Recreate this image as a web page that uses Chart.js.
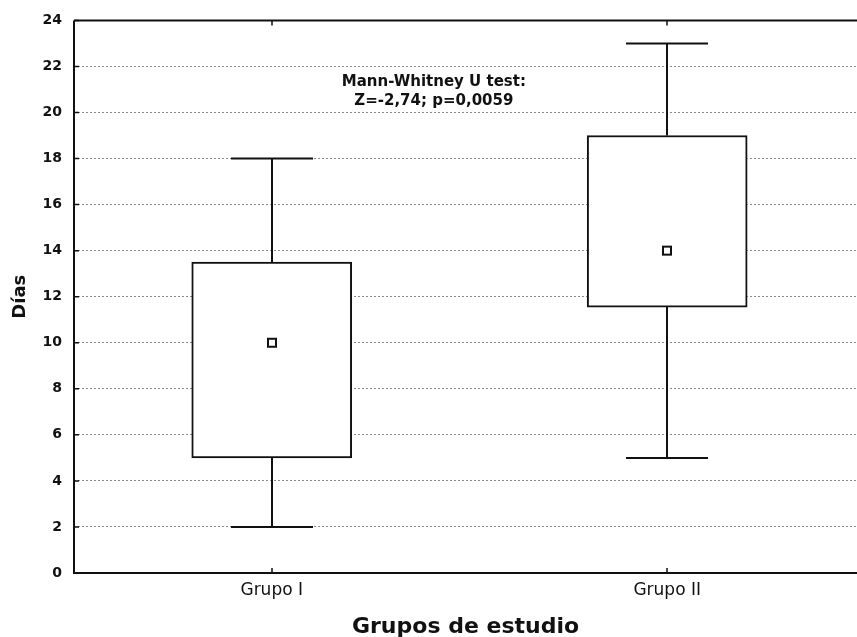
<!DOCTYPE html>
<html>
<head>
<meta charset="utf-8">
<script src="https://cdn.jsdelivr.net/npm/chart.js@4/dist/chart.umd.min.js"></script>
<style>
  html, body { margin: 0; padding: 0; background: #fff; overflow: hidden; }
</style>
</head>
<body>
<canvas id="boxChart" width="857" height="637"></canvas>
<script>
// datos
const grupos = ["Grupo I", "Grupo II"];
const minimos = [2, 5];
const q1 = [5, 11.55];
const medianas = [10, 14];
const q3 = [13.5, 19];
const maximos = [18, 23];
const yTicks = [0, 2, 4, 6, 8, 10, 12, 14, 16, 18, 20, 22, 24];
const notaLineas = ["Mann-Whitney U test:", "Z=-2,74; p=0,0059"];
const notaPos = { x: 1.41, y: 21.3 };

const boxPlugin = {
    id: "boxExtras",
    afterDatasetsDraw(chart) {
        const ctx = chart.ctx;
        const xs = chart.scales.x;
        const ys = chart.scales.y;
        const area = chart.chartArea;
        const capHalf = 41;
        ctx.save();
        ctx.strokeStyle = "#111";
        ctx.lineWidth = 2;

        // bigotes y tapas
        grupos.forEach(function (g, i) {
            const cx = Math.round(xs.getPixelForValue(i + 1));
            const yMin = ys.getPixelForValue(minimos[i]);
            const yQ1 = ys.getPixelForValue(q1[i]);
            const yQ3 = ys.getPixelForValue(q3[i]);
            const yMax = ys.getPixelForValue(maximos[i]);
            ctx.beginPath();
            ctx.moveTo(cx, yQ1); ctx.lineTo(cx, yMin);
            ctx.moveTo(cx - capHalf, yMin); ctx.lineTo(cx + capHalf, yMin);
            ctx.moveTo(cx, yQ3); ctx.lineTo(cx, yMax);
            ctx.moveTo(cx - capHalf, yMax); ctx.lineTo(cx + capHalf, yMax);
            ctx.stroke();

            // mediana
            const ym = ys.getPixelForValue(medianas[i]);
            ctx.fillStyle = "#fff";
            ctx.fillRect(cx - 4, ym - 4, 8, 8);
            ctx.strokeRect(cx - 4, ym - 4, 8, 8);
        });

        // marco
        ctx.beginPath();
        ctx.moveTo(area.left, area.top); ctx.lineTo(area.right, area.top);
        ctx.moveTo(area.left, area.top); ctx.lineTo(area.left, area.bottom);
        ctx.lineTo(area.right, area.bottom);
        ctx.stroke();

        // marcas internas
        ctx.lineWidth = 1.5;
        ctx.beginPath();
        yTicks.forEach(function (v) {
            const py = ys.getPixelForValue(v);
            ctx.moveTo(area.left, py); ctx.lineTo(area.left + 5, py);
        });
        grupos.forEach(function (g, i) {
            const px = Math.round(xs.getPixelForValue(i + 1));
            ctx.moveTo(px, area.bottom); ctx.lineTo(px, area.bottom - 5);
            ctx.moveTo(px, area.top); ctx.lineTo(px, area.top + 5);
        });
        ctx.stroke();

        // nota
        ctx.fillStyle = "#111";
        ctx.font = "bold 15px 'DejaVu Sans'";
        ctx.textAlign = "center";
        ctx.textBaseline = "middle";
        const nx = xs.getPixelForValue(notaPos.x);
        const ny = ys.getPixelForValue(notaPos.y);
        notaLineas.forEach(function (t, k) {
            ctx.fillText(t, nx, ny + k * 19);
        });
        ctx.restore();
    }
};

new Chart(document.getElementById("boxChart"), {
    type: "bar",
    data: {
        datasets: [{
            data: grupos.map(function (g, i) {
                return { x: i + 1, y: [q1[i], q3[i]] };
            }),
            backgroundColor: "#fff",
            borderColor: "#111",
            borderWidth: 2,
            borderSkipped: false,
            barThickness: 160
        }]
    },
    options: {
        responsive: false,
        animation: false,
        layout: { padding: { top: 18, left: 0, right: 0, bottom: 0 } },
        plugins: {
            legend: { display: false },
            tooltip: { enabled: false }
        },
        scales: {
            x: {
                type: "linear",
                offset: false,
                min: 0.5,
                max: 2.48,
                afterBuildTicks: function (scale) {
                    scale.ticks = grupos.map(function (g, i) { return { value: i + 1 }; });
                },
                afterFit: function (scale) { scale.height = 64; },
                grid: { display: false, drawTicks: false },
                border: { display: false },
                ticks: {
                    padding: 7,
                    color: "#111",
                    font: { family: "'DejaVu Sans'", size: 17 },
                    callback: function (v) { return grupos[v - 1] || ""; }
                },
                title: {
                    display: true,
                    text: "Grupos de estudio",
                    color: "#111",
                    font: { family: "'DejaVu Sans'", size: 22, weight: "bold" },
                    padding: { top: 4, bottom: -3 }
                }
            },
            y: {
                min: 0,
                max: 24,
                afterBuildTicks: function (scale) {
                    scale.ticks = yTicks.map(function (v) { return { value: v }; });
                },
                afterFit: function (scale) { scale.width = 74; },
                grid: {
                    drawTicks: false,
                    lineWidth: 1,
                    color: function (c) {
                        const v = c.tick ? c.tick.value : null;
                        return (v === 0 || v === 24) ? "rgba(0,0,0,0)" : "#8c8c8c";
                    }
                },
                border: { display: false, dash: [2, 2] },
                ticks: {
                    padding: 12,
                    color: "#111",
                    font: { family: "'DejaVu Sans'", size: 14, weight: "bold" }
                },
                title: {
                    display: true,
                    text: "Días",
                    color: "#111",
                    font: { family: "'DejaVu Sans'", size: 18, weight: "bold" },
                    padding: { top: 10, bottom: 4 }
                }
            }
        }
    },
    plugins: [boxPlugin]
});
</script>
</body>
</html>
